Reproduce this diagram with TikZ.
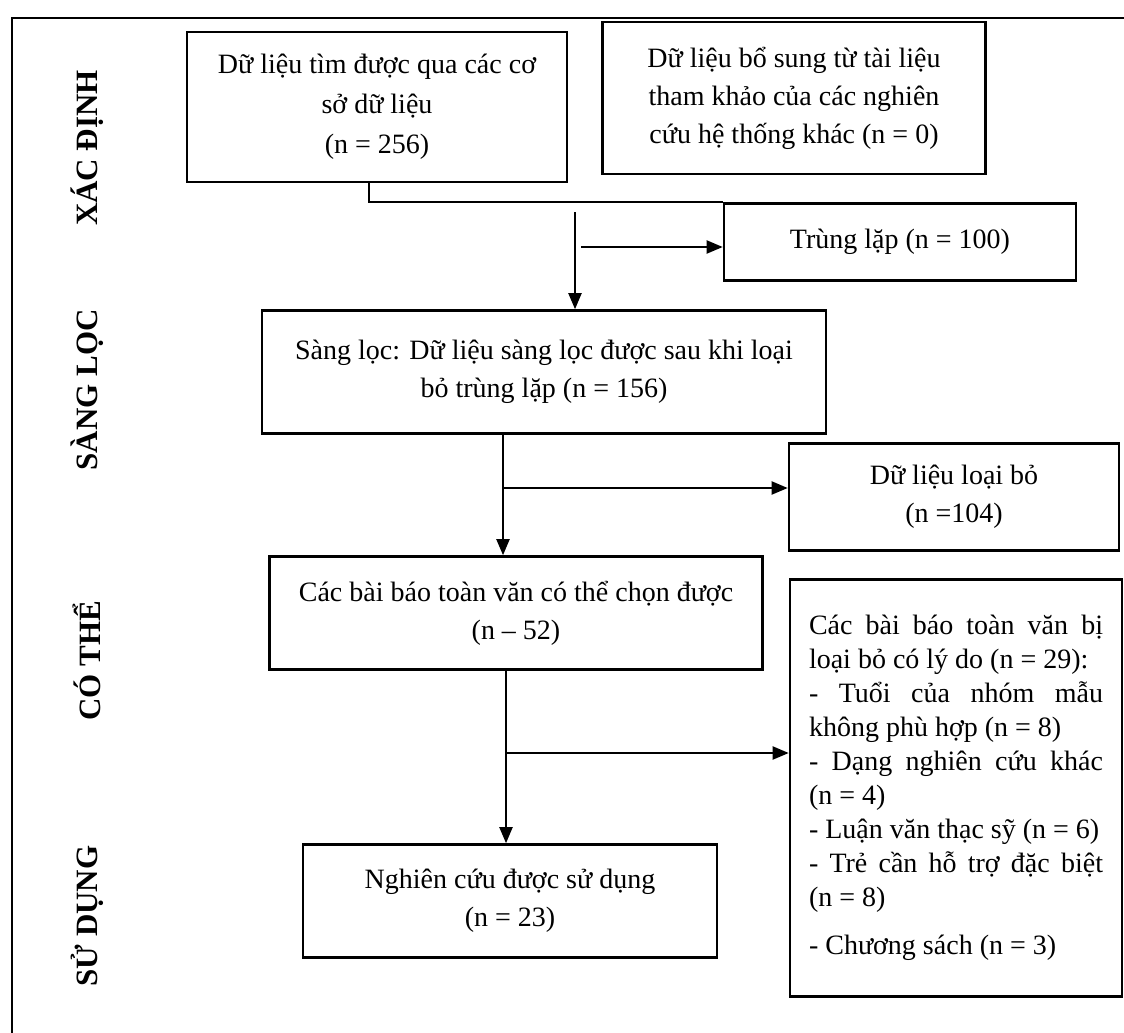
\documentclass[tikz,border=0pt]{standalone}
\usepackage{fontspec}
\setmainfont{Liberation Serif}
\usetikzlibrary{arrows.meta}
\setlength{\parindent}{0pt}

\tikzset{
    box/.style={draw, line width=2.6pt, align=center, inner sep=0pt,
        font=\fontsize{28}{38}\selectfont},
    side/.style={rotate=90, font=\bfseries\fontsize{31}{31}\selectfont},
    link/.style={line width=2pt},
    flow/.style={line width=2pt, -{Triangle[length=16pt,width=13pt]}},
}

\begin{document}
\begin{tikzpicture}[x=1pt, y=-1pt]
    \useasboundingbox (0,0) rectangle (1124,1033);

    % frame
    \draw[line width=2.6pt] (1124,18) -- (12,18) -- (12,1033);

    % stage labels
    \node[side] (lblfind) at (87,148) {XÁC ĐỊNH};
    \node[side] (lblscreen) at (87,390) {SÀNG LỌC};
    \node[side] (lblfit) at (87,661) {CÓ THỂ};
    \node[side] (lbluse) at (87,916) {SỬ DỤNG};

    % boxes
    \node[box, minimum width=380pt, minimum height=150pt,
        font=\fontsize{28}{40}\selectfont] (src) at (377,107)
        {Dữ liệu tìm được qua các cơ\\ sở dữ liệu\\ (n = 256)};
    \node[box, minimum width=383pt, minimum height=152pt] (extra) at (794,98)
        {Dữ liệu bổ sung từ tài liệu\\ tham khảo của các nghiên\\ cứu hệ thống khác (n = 0)};
    \node[box, minimum width=352pt, minimum height=77pt] (dup) at (900,242)
        {Trùng lặp (n = 100)};
    \node[box, minimum width=564pt, minimum height=123pt] (screen) at (544,372)
        {Sàng lọc: Dữ liệu sàng lọc được sau khi loại\\ bỏ trùng lặp (n = 156)};
    \node[box, minimum width=330pt, minimum height=107pt] (excl) at (954,497)
        {Dữ liệu loại bỏ\\ (n =104)};
    \node[box, minimum width=493pt, minimum height=113pt] (full) at (516,613)
        {Các bài báo toàn văn có thể chọn được\\ (n – 52)};
    \node[box, minimum width=414pt, minimum height=113pt] (used) at (510,901)
        {Nghiên cứu được sử dụng\\ (n = 23)};
    \node[box, align=justify, text width=294pt, inner xsep=19pt,
        minimum height=417pt, font=\fontsize{28}{34}\selectfont] (why) at (956,788)
        {Các bài báo toàn văn bị\linebreak loại bỏ có lý do (n = 29):\par
         - Tuổi của nhóm mẫu\linebreak không phù hợp (n = 8)\par
         - Dạng nghiên cứu khác\linebreak (n = 4)\par
         \mbox{- Luận văn thạc sỹ (n = 6)}\par
         - Trẻ cần hỗ trợ đặc biệt\linebreak (n = 8)\par
         \vspace{14pt}- Chương sách (n = 3)};

    % connectors
    \coordinate (j1) at (369,207);
    \coordinate (j2) at (575,212);
    \coordinate (j3) at (581,247);
    \coordinate (k1) at (503,488);
    \coordinate (k2) at (506,753);

    \draw[link] (j1 |- src.south) |- (dup.north west);
    \draw[flow] (j2) -- (j2 |- screen.north);
    \draw[flow] (j3) -- (j3 -| dup.west);
    \draw[flow] (k1 |- screen.south) -- (k1 |- full.north);
    \draw[flow] (k1) -- (k1 -| excl.west);
    \draw[flow] (k2 |- full.south) -- (k2 |- used.north);
    \draw[flow] (k2) -- (k2 -| why.west);
\end{tikzpicture}
\end{document}
